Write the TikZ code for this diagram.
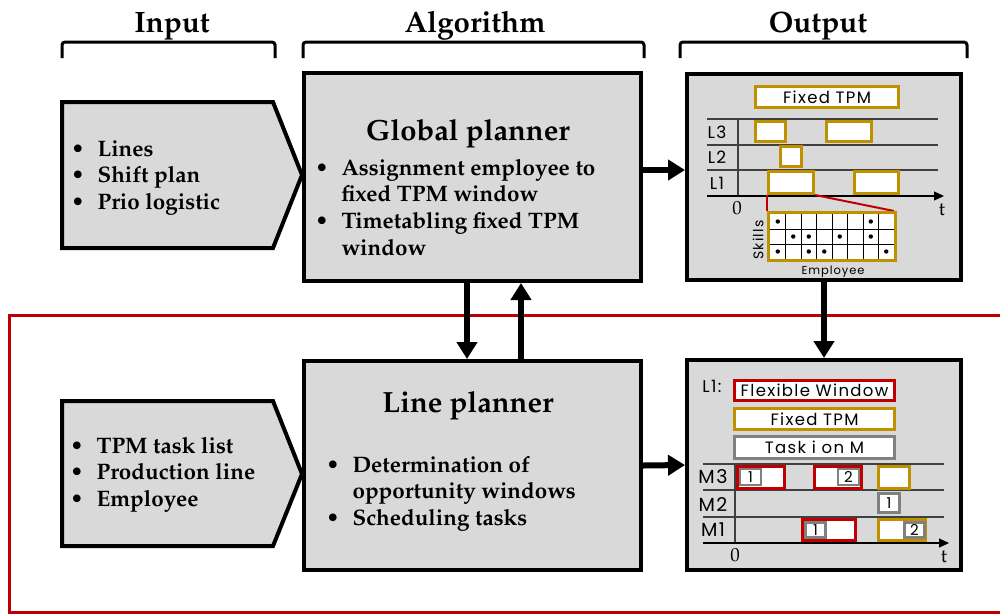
\documentclass[tikz,border=0pt]{standalone}
\usepackage[T1]{fontenc}
\usepackage{fontspec}
\newfontfamily\gsans[LetterSpace=8]{Poppins}
\newcommand\pal{\fontencoding{T1}\fontfamily{ppl}\selectfont}
\usetikzlibrary{arrows.meta}
\definecolor{boxgray}{HTML}{D9D9D9}
\definecolor{tpmgold}{HTML}{BF9000}
\definecolor{flexred}{HTML}{C00000}
\definecolor{taskgray}{HTML}{808080}
\definecolor{lanegray}{HTML}{404040}
\newcommand\bulletlist[1]{\begin{tabular}[t]{@{}l@{\hspace{13pt}}l@{}}#1\end{tabular}}
\tikzset{
  block/.style={draw=black, line width=4pt, fill=boxgray, inner sep=0pt},
  header/.style={font=\pal\bfseries\fontsize{29.5}{31}\selectfont, anchor=base, inner sep=0pt},
  boxtitle/.style={font=\pal\bfseries\fontsize{29.2}{31}\selectfont, anchor=base, inner sep=0pt},
  items/.style={font=\pal\bfseries\fontsize{22.4}{26.7}\selectfont, anchor=base west, inner sep=0pt},
  brace/.style={line width=3pt, rounded corners=3pt},
  flow/.style={line width=6pt, -{Triangle[length=17pt,width=20pt]}},
  lane/.style={draw=lanegray, line width=1.2pt},
  axis/.style={draw=black, line width=1.2pt, -{Triangle[length=10pt,width=9pt]}},
  win/.style={draw, line width=3pt, fill=white, inner sep=0pt, font=\gsans\fontsize{16.5}{18}\selectfont},
  goldwin/.style={win, draw=tpmgold},
  flexwin/.style={win, draw=flexred},
  taskwin/.style={win, draw=taskgray, line width=2.5pt, font=\gsans\fontsize{15}{16}\selectfont},
  lab/.style={font=\gsans\fontsize{17}{18}\selectfont, inner sep=0pt},
  tick/.style={font=\pal\fontsize{19}{20}\selectfont, inner sep=0pt},
}
\begin{document}
\begin{tikzpicture}[x=1pt, y=-1pt]
\useasboundingbox[fill=white] (0,0) rectangle (1000,614);

% line-planner frame, open to the right
\draw[flexred, line width=3pt] (1010,315) -- (9,315) -- (9,612) -- (1010,612);

% column headers with brackets
\node[header] (hin)  at (172,32) {Input};
\node[header] (halg) at (475,32) {Algorithm};
\node[header] (hout) at (818,32) {Output};
\draw[brace] (62,58) -- (62,42) -- (275,42) -- (275,58);
\draw[brace] (303,58) -- (303,42) -- (644,42) -- (644,58);
\draw[brace] (680,58) -- (680,42) -- (967,42) -- (967,58);

% input arrows
\draw[block] (62,102) -- (273,102) -- (302,175) -- (273,248) -- (62,248) -- cycle;
\node[items] (in1) at (70.8,156) {\bulletlist{\textbullet & Lines\\ \textbullet & Shift plan\\ \textbullet & Prio logistic}};
\draw[block] (62,401) -- (273,401) -- (302,474) -- (273,546) -- (62,546) -- cycle;
\node[items] (in2) at (69.8,453) {\bulletlist{\textbullet & TPM task list\\ \textbullet & Production line\\ \textbullet & Employee}};

% planners
\node[block, minimum width=337, minimum height=208] (glob) at (472.5,177) {};
\node[boxtitle] (globt) at (468,140) {Global planner};
\node[items] (globi) at (314.8,175) {\bulletlist{\textbullet & Assignment employee to\\ & fixed TPM window\\ \textbullet & Timetabling fixed TPM\\ & window}};

\node[block, minimum width=337, minimum height=209] (line) at (472.5,465.5) {};
\node[boxtitle] (linet) at (468,412) {Line planner};
\node[items] (linei) at (325.8,472) {\bulletlist{\textbullet & Determination of\\ & opportunity windows\\ \textbullet & Scheduling tasks}};

% output panels
\node[block, minimum width=274, minimum height=206] (out1) at (824,177) {};
\node[block, minimum width=274, minimum height=210] (out2) at (824,465) {};

% --- global plan: fixed TPM windows per line
\node[goldwin, minimum width=143, minimum height=21] (fixleg) at (827,97) {Fixed TPM};
\draw[lane] (707,119) -- (938,119);
\draw[lane] (707,145) -- (938,145);
\draw[lane] (707,170) -- (938,170);
\draw[lane] (738,119) -- (738,196);
\draw[axis] (707,196) -- (944,196);
\node[lab] (l3) at (717,132) {L3};
\node[lab] (l2) at (717,157) {L2};
\node[lab] (l1) at (717,183) {L1};
\node[tick] (zero1) at (737,208) {0};
\node[tick] (t1) at (942,210) {t};
\draw[flexred, line width=2pt] (767,195) -- (767,211);
\draw[flexred, line width=2pt] (815,195) -- (894,211);
\node[goldwin, minimum width=30, minimum height=20] (l3a) at (770.5,131.5) {};
\node[goldwin, minimum width=45, minimum height=20] (l3b) at (849,131.5) {};
\node[goldwin, minimum width=21, minimum height=20] (l2a) at (791,156.5) {};
\node[goldwin, minimum width=45, minimum height=22] (l1a) at (791,182.5) {};
\node[goldwin, minimum width=44, minimum height=22] (l1b) at (876.5,182.5) {};

% skill matrix of the selected window
\node[goldwin, minimum width=127, minimum height=48] (skills) at (832,236.5) {};
\foreach \k in {1,...,7} \draw[black, line width=0.9pt] (770+15.5*\k,214) -- (770+15.5*\k,259);
\foreach \k in {1,2} \draw[black, line width=0.9pt] (770,214+15*\k) -- (894,214+15*\k);
\foreach \c/\r in {1/1,7/1,2/2,3/2,5/2,7/2,1/3,3/3,4/3,8/3}
  \fill (770+15.5*\c-7.75,214+15*\r-7.5) circle (2.2);
\node[lab, rotate=90, font=\gsans\fontsize{14}{16}\selectfont] (skl) at (758,240) {Skills};
\node[lab, font=\gsans\fontsize{11.5}{13}\selectfont] (emp) at (833,272) {Employee};

% --- line plan: windows and tasks per machine
\node[lab, font=\gsans\fontsize{17}{18}\selectfont] (l1lab) at (712,386) {L1:};
\node[flexwin, minimum width=160, minimum height=20] (flexleg) at (814.5,390.5) {Flexible Window};
\node[goldwin, minimum width=160, minimum height=21] (fixleg2) at (814.5,419) {Fixed TPM};
\node[win, draw=taskgray, minimum width=160, minimum height=22] (taskleg) at (814.5,447.5) {Task i on M};
\draw[lane] (703,464) -- (944,464);
\draw[lane] (703,490) -- (944,490);
\draw[lane] (703,517) -- (944,517);
\draw[lane] (735,464) -- (735,543);
\draw[axis] (703,543) -- (949,543);
\node[lab, font=\gsans\fontsize{19}{20}\selectfont] (m3) at (713,477) {M3};
\node[lab, font=\gsans\fontsize{19}{20}\selectfont] (m2) at (713,504) {M2};
\node[lab, font=\gsans\fontsize{19}{20}\selectfont] (m1) at (713,530) {M1};
\node[tick] (zero2) at (735,555) {0};
\node[tick] (t2) at (944,557) {t};

\node[flexwin, minimum width=47, minimum height=22] (m3f1) at (761,477.5) {};
\node[taskwin, minimum width=21, minimum height=16] (m3t1) at (750.5,477) {1};
\node[flexwin, minimum width=47, minimum height=22] (m3f2) at (838,477.5) {};
\node[taskwin, minimum width=21, minimum height=16] (m3t2) at (848.5,477) {2};
\node[goldwin, minimum width=31, minimum height=22] (m3g) at (894,477.5) {};
\node[taskwin, minimum width=21, minimum height=19] (m2t1) at (889,503) {1};
\node[flexwin, minimum width=53, minimum height=21] (m1f1) at (829,530) {};
\node[taskwin, minimum width=20, minimum height=15] (m1t1) at (815.5,530) {1};
\node[goldwin, minimum width=47, minimum height=21] (m1g) at (902,530) {};
\node[taskwin, minimum width=20, minimum height=15] (m1t2) at (914.5,530) {2};

% information flow
\draw[flow] ([yshift=7pt]glob.east) -- ([yshift=7pt]out1.west);
\draw[flow] (line.east) -- (out2.west);
\draw[flow] (out1.south) -- (out2.north);
\draw[flow] ([xshift=-5.5pt]glob.south) -- ([xshift=-5.5pt]line.north);
\draw[flow] ([xshift=48.5pt]line.north) -- ([xshift=48.5pt]glob.south);
\end{tikzpicture}
\end{document}
